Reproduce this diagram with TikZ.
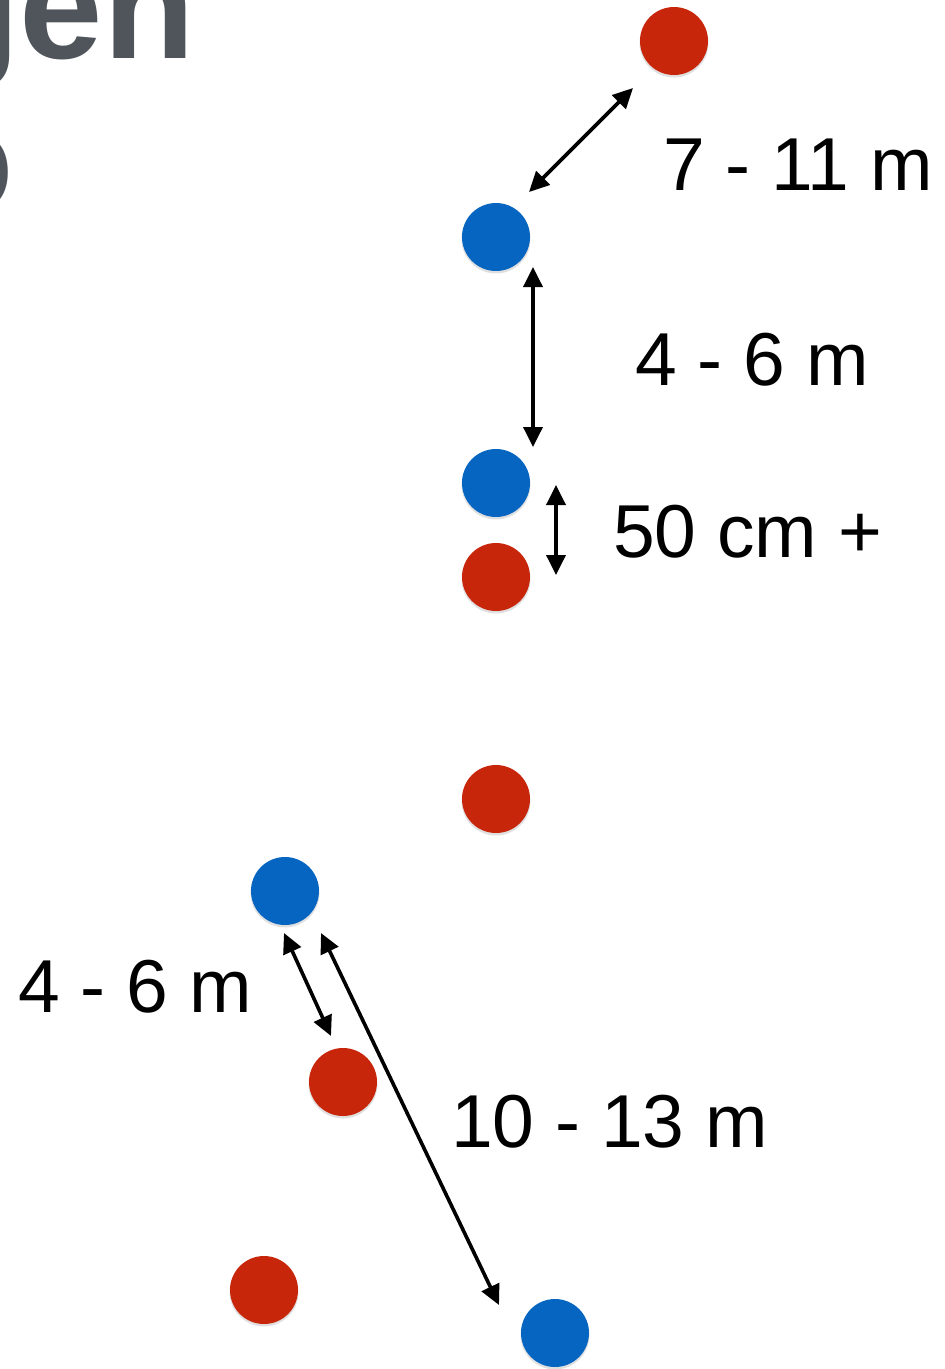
\documentclass[tikz,border=0pt]{standalone}
\usepackage{fontspec}
\setmainfont{Liberation Sans}
\usetikzlibrary{arrows.meta}
\definecolor{dotred}{HTML}{C8260A}
\definecolor{dotblue}{HTML}{0565C0}
\definecolor{titlegray}{HTML}{50555C}
\tikzset{
  dot/.style={circle, minimum size=68pt, inner sep=0pt},
  reddot/.style={dot, fill=dotred},
  bluedot/.style={dot, fill=dotblue},
  dim/.style={line width=3.6pt, {Triangle[length=20pt,width=19pt]}-{Triangle[length=20pt,width=19pt]}},
  lbl/.style={anchor=base west, inner sep=0pt, font=\fontsize{75pt}{80pt}\selectfont}
}
\begin{document}
\begin{tikzpicture}[x=1pt,y=-1pt]
\useasboundingbox (0,0) rectangle (945,1369);
\begin{scope}
\clip (0,0) rectangle (945,1369);
\node[anchor=base east, inner sep=0pt, text=titlegray, font=\fontsize{150pt}{160pt}\selectfont\bfseries] (title) at (195,58) {gen};
\node[anchor=base east, inner sep=0pt, text=titlegray, font=\fontsize{150pt}{160pt}\selectfont\bfseries] (title2) at (14,212) {o};
\end{scope}
% shadows
\foreach \p in {(674,43),(496,239),(496,485),(496,579),(496,801),(285,893),(343,1084),(264,1292),(555,1335)}
  \fill[black!12] \p circle (34.5pt);
% dots
\node[reddot]  (r1) at (674,41) {};
\node[bluedot] (b1) at (496,237) {};
\node[bluedot] (b2) at (496,483) {};
\node[reddot]  (r2) at (496,577) {};
\node[reddot]  (r3) at (496,799) {};
\node[bluedot] (b3) at (285,891) {};
\node[reddot]  (r4) at (343,1082) {};
\node[reddot]  (r5) at (264,1290) {};
\node[bluedot] (b4) at (555,1333) {};
% arrow endpoints
\coordinate (a1s) at (633,88);
\coordinate (a1e) at (529,192);
\coordinate (a2s) at (533,267);
\coordinate (a2e) at (533,447);
\coordinate (a3s) at (556,485);
\coordinate (a3e) at (556,575);
\coordinate (a4s) at (284,933);
\coordinate (a4e) at (331,1036);
\coordinate (a5s) at (321,933);
\coordinate (a5e) at (499,1305);
\draw[dim] (a1s) -- (a1e);
\draw[dim] (a2s) -- (a2e);
\draw[dim] (a3s) -- (a3e);
\draw[dim] (a4s) -- (a4e);
\draw[dim] (a5s) -- (a5e);
% labels
\node[lbl] (l1) at (663,190) {7 - 11 m};
\node[lbl] (l2) at (635,385) {4 - 6 m};
\node[lbl] (l3) at (613,557) {50 cm +};
\node[lbl] (l4) at (18,1012) {4 - 6 m};
\node[lbl] (l5) at (451,1147) {10 - 13 m};
\end{tikzpicture}
\end{document}
